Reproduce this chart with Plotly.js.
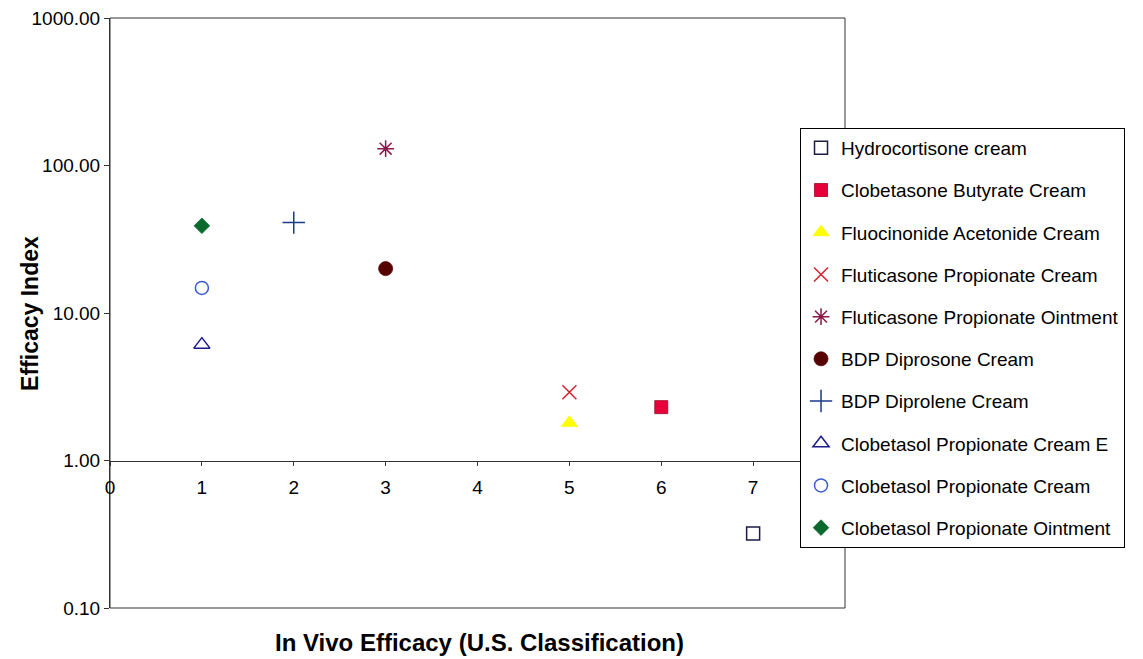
<!DOCTYPE html>
<html>
<head>
<meta charset="utf-8">
<script src="https://cdn.plot.ly/plotly-3.0.1.min.js"></script>
<style>html,body{margin:0;padding:0;background:#fff;}#chart{width:1143px;height:659px;}</style>
</head>
<body>
<div id="chart"></div>
<script>
// Data
const seriesNames = [
  "Hydrocortisone cream",
  "Clobetasone Butyrate Cream",
  "Fluocinonide Acetonide Cream",
  "Fluticasone Propionate Cream",
  "Fluticasone Propionate Ointment",
  "BDP Diprosone Cream",
  "BDP Diprolene Cream",
  "Clobetasol Propionate Cream E",
  "Clobetasol Propionate Cream",
  "Clobetasol Propionate Ointment"
];
const classification = [7, 6, 5, 5, 3, 3, 2, 1, 1, 1];
const efficacyIndex = [0.32, 2.3, 1.8, 2.9, 130, 20, 41, 6.1, 14.8, 39];
const yTickVals = [0.1, 1, 10, 100, 1000];
const yTickText = ["0.10", "1.00", "10.00", "100.00", "1000.00"];
const xTickVals = [0, 1, 2, 3, 4, 5, 6, 7];
const xTitle = "In Vivo Efficacy (U.S. Classification)";
const yTitle = "Efficacy Index";

const markerSymbols = ["square-open", "square", "triangle-up", "x-thin-open", "asterisk-open",
  "circle", "cross-thin-open", "triangle-up-open", "circle-open", "diamond"];
const markerColors = ["#1c1c44", "#e8003a", "#ffff00", "#d8202c", "#8a1848",
  "#560000", "#1a3a8c", "#1a1a8c", "#3a5cd0", "#0a6a2e"];
const markerSizes = [13, 13, 14, 14, 14, 14, 16, 14, 13, 12];

const traces = seriesNames.map((name, i) => ({
  type: "scatter",
  mode: "markers",
  name: name,
  legendgroup: "g" + i,
  x: [classification[i]],
  y: [efficacyIndex[i]],
  marker: {
    symbol: markerSymbols[i],
    color: markerColors[i],
    size: markerSizes[i],
    line: {color: i === 1 ? "#a00020" : markerColors[i], width: (markerSymbols[i].indexOf("open") >= 0) ? 1.5 : 0.8}
  }
}));

const font = "Liberation Sans, Arial, sans-serif";
const layout = {
  width: 1143, height: 659,
  paper_bgcolor: "#fff", plot_bgcolor: "#fff",
  margin: {l: 110, r: 298, t: 18, b: 51, autoexpand: false},
  font: {family: font, size: 19, color: "#000"},
  showlegend: true,
  legend: {
    x: 0.9388, y: 0.8136, xanchor: "left", yanchor: "top",
    bgcolor: "#fff", bordercolor: "#000", borderwidth: 1,
    font: {family: font, size: 19, color: "#000"},
    traceorder: "grouped", tracegroupgap: 14.5,
    itemwidth: 30
  },
  xaxis: {
    range: [0, 8], tickvals: xTickVals,
    anchor: "free", position: 0.25,
    showline: true, linecolor: "#333", linewidth: 1,
    ticks: "outside", ticklen: 4, tickcolor: "#333",
    ticklabelstandoff: 6,
    showgrid: false, zeroline: false,
    tickfont: {family: font, size: 19}
  },
  yaxis: {
    type: "log", range: [-1, 3],
    tickvals: yTickVals, ticktext: yTickText,
    showline: true, linecolor: "#333", linewidth: 1,
    ticks: "outside", ticklen: 5, tickcolor: "#333",
    showgrid: false, zeroline: false,
    tickfont: {family: font, size: 19}
  },
  annotations: [
    {text: "<b>" + xTitle + "</b>", xref: "paper", yref: "paper", x: 0.503, y: -0.059,
     xanchor: "center", yanchor: "middle", showarrow: false, font: {family: font, size: 24}},
    {text: "<b>" + yTitle + "</b>", xref: "paper", yref: "paper", x: -0.109, y: 0.5,
     xanchor: "center", yanchor: "middle", textangle: -90, showarrow: false, font: {family: font, size: 23}}
  ],
  shapes: [{
    type: "rect", xref: "paper", yref: "paper", x0: 0, x1: 1, y0: 0, y1: 1,
    line: {color: "#333", width: 1}, layer: "below"
  }]
};

Plotly.newPlot("chart", traces, layout, {displayModeBar: false, staticPlot: true});
</script>
</body>
</html>
